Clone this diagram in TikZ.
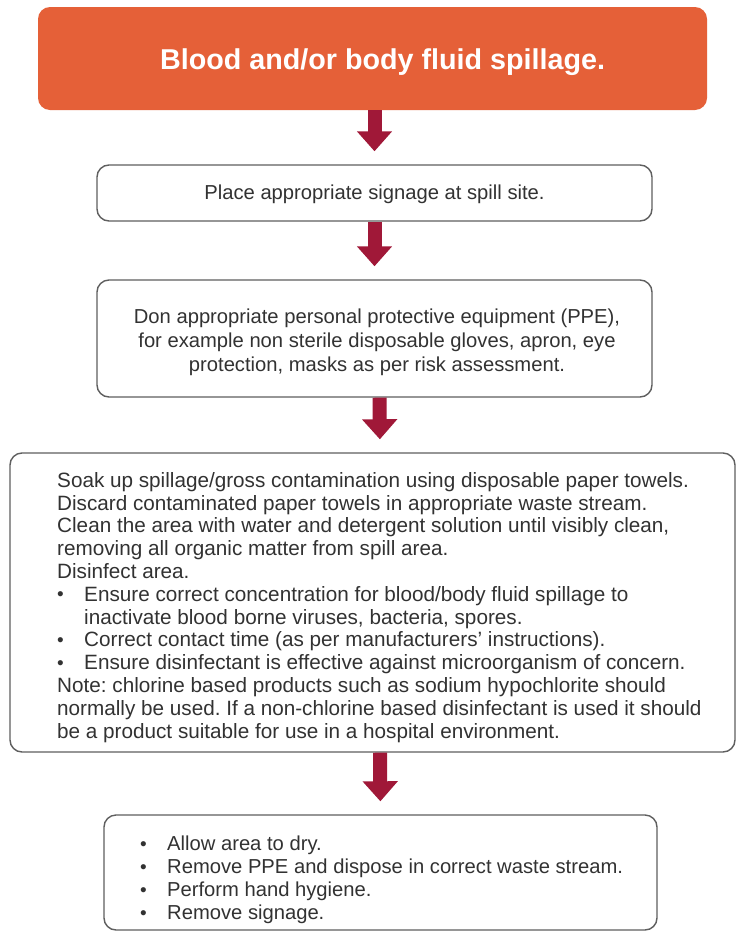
\documentclass[tikz,border=0pt]{standalone}
\usepackage{fontspec}
\setmainfont{Liberation Sans}
\usetikzlibrary{arrows.meta}
\frenchspacing
\definecolor{spillorange}{RGB}{229,96,56}
\definecolor{arrowred}{RGB}{160,24,56}
\definecolor{boxgray}{RGB}{95,95,95}
\definecolor{txtgray}{RGB}{50,50,50}
\tikzset{
  stepbox/.style={draw=boxgray, line width=1.4pt, rounded corners=12pt, fill=white, inner sep=0pt},
  headbox/.style={fill=spillorange, rounded corners=12pt, inner sep=0pt},
  headtext/.style={text=white, inner sep=0pt, font=\fontsize{28.7}{32}\selectfont\bfseries},
  bodytext/.style={text=txtgray, inner sep=0pt, font=\fontsize{20.2}{23}\selectfont},
  flowarrow/.style={arrowred, line width=14pt, -{Triangle[width=34pt,length=20pt]}, shorten >=13pt}
}
\newcommand{\bul}{\hspace*{0pt}\makebox[27pt][l]{\raisebox{0.5pt}{\fontsize{19}{19}\selectfont\textbullet}}}
\begin{document}
\begin{tikzpicture}[x=1pt,y=-1pt]
\useasboundingbox (0,0) rectangle (737,932);
\fill[white] (0,0) rectangle (737,932);
% boxes
\node[headbox, minimum width=669pt, minimum height=103pt] (b1) at (372.5,58.5) {};
\node[headtext] (t1) at (382.5,62) {Blood and/or body fluid spillage.};
\node[stepbox, minimum width=555pt, minimum height=56pt] (b2) at (374.5,193) {};
\node[bodytext] (t2) at (374.5,194) {Place appropriate signage at spill site.};
\node[stepbox, minimum width=555pt, minimum height=117pt] (b3) at (374.5,338.5) {};
\node[bodytext, align=center, font=\fontsize{20.2}{24}\selectfont] (t3) at (377,342) {Don appropriate personal protective equipment (PPE),\\
for example non sterile disposable gloves, apron, eye\\
protection, masks as per risk assessment.};
\node[stepbox, minimum width=725pt, minimum height=299pt] (b4) at (372.5,602.5) {};
\node[bodytext, align=left, anchor=north west, font=\fontsize{20.7}{22.8}\selectfont] (t4) at (57,472) {Soak up spillage/gross contamination using disposable paper towels.\\
Discard contaminated paper towels in appropriate waste stream.\\
Clean the area with water and detergent solution until visibly clean,\\
removing all organic matter from spill area.\\
Disinfect area.\\
\bul Ensure correct concentration for blood/body fluid spillage to\\
\hspace*{27pt}inactivate blood borne viruses, bacteria, spores.\\
\bul Correct contact time (as per manufacturers' instructions).\\
\bul Ensure disinfectant is effective against microorganism of concern.\\
Note: chlorine based products such as sodium hypochlorite should\\
normally be used. If a non-chlorine based disinfectant is used it should\\
be a product suitable for use in a hospital environment.};
\node[stepbox, minimum width=553pt, minimum height=115pt] (b5) at (380.5,872.5) {};
\node[bodytext, align=left, anchor=north west] (t5) at (140,836) {\bul Allow area to dry.\\
\bul Remove PPE and dispose in correct waste stream.\\
\bul Perform hand hygiene.\\
\bul Remove signage.};
% arrows
\draw[flowarrow] ([xshift=2pt]b1.south) -- ([xshift=0pt]b2.north);
\draw[flowarrow] (b2.south) -- (b3.north);
\draw[flowarrow] ([xshift=5pt]b3.south) -- ([xshift=7.5pt]b4.north);
\draw[flowarrow] ([xshift=7.5pt]b4.south) -- (b5.north);
\end{tikzpicture}
\end{document}
